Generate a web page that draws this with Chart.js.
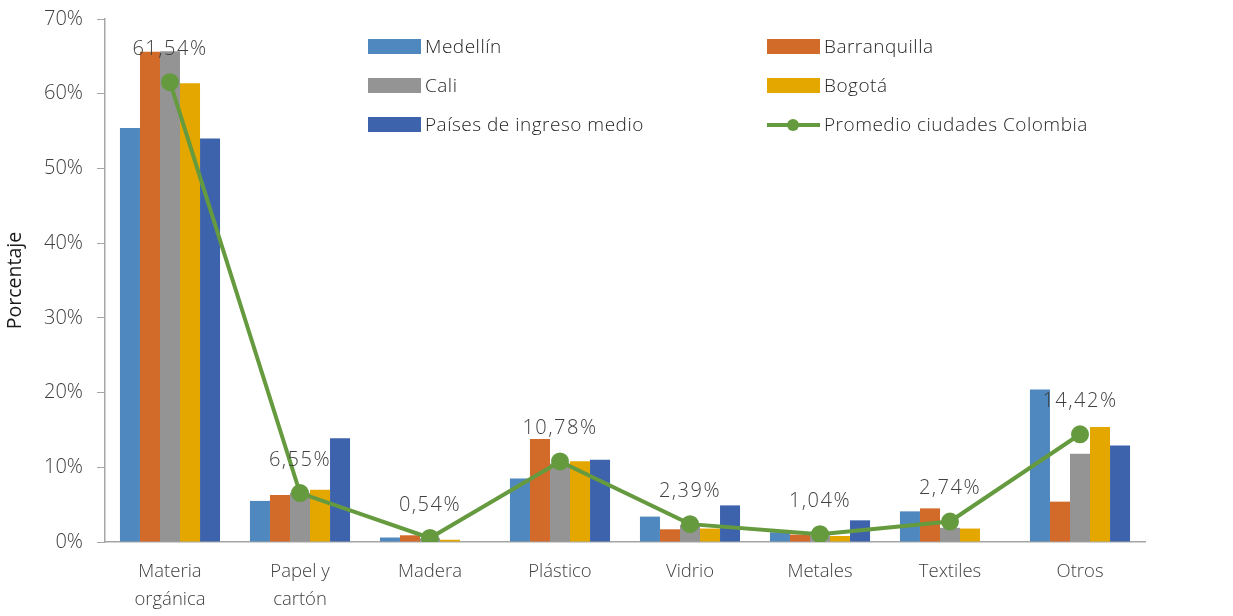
<!DOCTYPE html>
<html>
<head>
<meta charset="utf-8">
<script src="https://cdn.jsdelivr.net/npm/chart.js@4"></script>
<style>
  body { margin: 0; background: #fff; }
  #wrap { position: relative; width: 1233px; height: 616px; }
  .leg { position: absolute; font-family: "Open Sans", sans-serif; font-weight: 300; font-size: 19px; letter-spacing: 0.5px; color: #262626; line-height: 20px; white-space: nowrap; }
  .leg .box { position: absolute; left: 0; top: 2px; width: 53px; height: 15px; }
  .leg .ln { position: absolute; left: 0; top: 8px; width: 53px; height: 4px; background: #659a3f; }
  .leg .dot { position: absolute; left: 20px; top: 4px; width: 12px; height: 12px; border-radius: 50%; background: #659a3f; }
  .leg span { position: absolute; left: 57px; top: -1px; }
</style>
</head>
<body>
<div id="wrap">
  <canvas id="chart" width="1233" height="616"></canvas>
  <div class="leg" style="left:368px;top:37px"><div class="box" style="background:#4f88be"></div><span>Medellín</span></div>
  <div class="leg" style="left:767px;top:37px"><div class="box" style="background:#d26b2a"></div><span>Barranquilla</span></div>
  <div class="leg" style="left:368px;top:76px"><div class="box" style="background:#949494"></div><span>Cali</span></div>
  <div class="leg" style="left:767px;top:76px"><div class="box" style="background:#e3a700"></div><span>Bogotá</span></div>
  <div class="leg" style="left:368px;top:115px"><div class="box" style="background:#3d63ad"></div><span>Países de ingreso medio</span></div>
  <div class="leg" style="left:767px;top:115px"><div class="ln"></div><div class="dot"></div><span>Promedio ciudades Colombia</span></div>
</div>
<script>
const categorias = [['Materia', 'orgánica'], ['Papel y', 'cartón'], 'Madera', 'Plástico', 'Vidrio', 'Metales', 'Textiles', 'Otros'];
const medellin     = [55.4, 5.5, 0.6, 8.5, 3.4, 1.3, 4.1, 20.4];
const barranquilla = [65.6, 6.3, 0.9, 13.8, 1.7, 1.0, 4.5, 5.4];
const cali         = [65.7, 6.6, 0.5, 10.5, 2.3, 0.9, 1.9, 11.8];
const bogota       = [61.4, 7.0, 0.3, 10.8, 1.8, 0.8, 1.8, 15.4];
const paises       = [54.0, 13.9, 0, 11.0, 4.9, 2.9, 0, 12.9];
const promedio     = [61.54, 6.55, 0.54, 10.78, 2.39, 1.04, 2.74, 14.42];
const yTicks = [0, 10, 20, 30, 40, 50, 60, 70];

const fuente = '"Open Sans", sans-serif';

function barra(label, data, color) {
  return { type: 'bar', label, data, backgroundColor: color, order: 2,
    barPercentage: 1, categoryPercentage: 0.77 };
}

// etiquetas del promedio
const etiquetas = {
  id: 'etiquetas',
  afterDatasetsDraw(chart) {
    const ctx = chart.ctx;
    const meta = chart.getDatasetMeta(5);
    ctx.save();
    ctx.font = '300 20px ' + fuente;
    ctx.letterSpacing = '1.5px';
    ctx.fillStyle = '#404040';
    ctx.textAlign = 'center';
    ctx.textBaseline = 'middle';
    meta.data.forEach((pt, i) => {
      ctx.fillText(promedio[i].toFixed(2).replace('.', ',') + '%', pt.x, pt.y - 33);
    });
    ctx.letterSpacing = '0px';
    ctx.restore();
  }
};

new Chart(document.getElementById('chart').getContext('2d'), {
  data: {
    labels: categorias,
    datasets: [
      barra('Medellín', medellin, '#4f88be'),
      barra('Barranquilla', barranquilla, '#d26b2a'),
      barra('Cali', cali, '#949494'),
      barra('Bogotá', bogota, '#e3a700'),
      barra('Países de ingreso medio', paises, '#3d63ad'),
      { type: 'line', label: 'Promedio ciudades Colombia', data: promedio, order: 0,
        borderColor: '#659a3f', backgroundColor: '#659a3f', borderWidth: 4,
        pointRadius: 7, pointHoverRadius: 7, tension: 0 }
    ]
  },
  options: {
    responsive: false,
    animation: false,
    layout: { padding: { left: 4, right: 88, top: 19, bottom: 0 } },
    plugins: { legend: { display: false }, tooltip: { enabled: false } },
    scales: {
      x: {
        grid: { display: false },
        border: { display: true, color: '#a6a6a6', width: 1.5 },
        ticks: { color: '#404040', font: { family: fuente, weight: 300, size: 18.5, lineHeight: 1.5 }, padding: 8, maxRotation: 0 },
        afterFit(s) { s.height = 74; }
      },
      y: {
        min: 0, max: 70,
        afterBuildTicks(s) { s.ticks = yTicks.map(v => ({ value: v })); },
        grid: { drawOnChartArea: false, drawTicks: true, tickLength: 8, color: '#a6a6a6' },
        border: { display: true, color: '#a6a6a6', width: 1.5 },
        ticks: { color: '#404040', font: { family: fuente, weight: 300, size: 20 }, padding: 14,
          callback: v => v + '%' },
        title: { display: true, text: 'Porcentaje', color: '#1a1a1a', font: { family: fuente, size: 19.5 }, padding: { top: 0, bottom: 2 } },
        afterFit(s) { s.width = 101; s.paddingTop = 0; }
      }
    }
  },
  plugins: [etiquetas]
});
</script>
</body>
</html>
